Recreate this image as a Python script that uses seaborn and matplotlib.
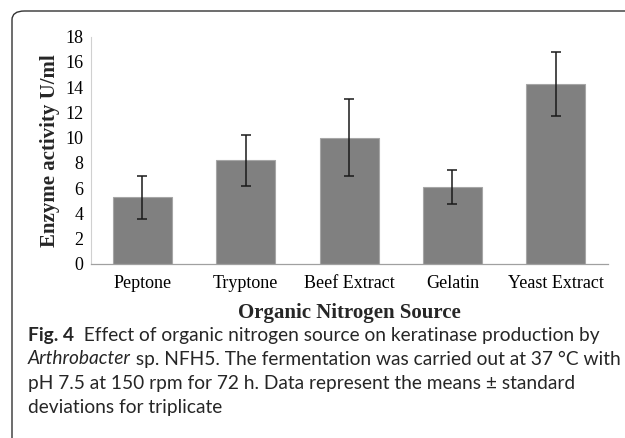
import numpy as np
import pandas as pd
import matplotlib
matplotlib.use("Agg")
import matplotlib.pyplot as plt
import seaborn as sns
from matplotlib.patches import FancyBboxPatch

# data
sources = ["Peptone", "Tryptone", "Beef Extract", "Gelatin", "Yeast Extract"]
activity = [5.3, 8.2, 10.0, 6.1, 14.25]
sd = [1.7, 2.0, 3.05, 1.35, 2.5]
yticks = [0, 2, 4, 6, 8, 10, 12, 14, 16, 18]

df = pd.DataFrame({"source": sources, "activity": activity, "sd": sd})

sns.set_style("white")
plt.rcParams["font.family"] = ["Liberation Serif", "DejaVu Serif"]

fig = plt.figure(figsize=(6.25, 4.38), dpi=100)
ax = fig.add_axes([0.1451, 0.3973, 0.8269, 0.5189])

sns.barplot(data=df, x="source", y="activity", color="#808080", saturation=1,
            width=0.57, edgecolor="#a6a6a6", linewidth=0.8, ax=ax)
ax.errorbar(np.arange(len(sources)), df["activity"], yerr=df["sd"], fmt="none",
            ecolor="#1a1a1a", elinewidth=1.1, capsize=3.5, capthick=1.1)

ax.set_xlim(-0.5, 4.5)
ax.set_ylim(0, 18)
ax.set_yticks(yticks)
ax.tick_params(axis="both", length=0, labelsize=13, colors="black")
ax.tick_params(axis="y", pad=5)
ax.tick_params(axis="x", pad=8)
ax.set_xlabel("Organic Nitrogen Source", fontsize=15, fontweight="bold", labelpad=8)
ax.set_ylabel("Enzyme activity U/ml", fontsize=15, fontweight="bold", labelpad=4)
for s in ["top", "right"]:
    ax.spines[s].set_visible(False)
ax.spines["left"].set_color("#d0d0d0")
ax.spines["bottom"].set_color("#a0a0a0")
ax.spines["left"].set_linewidth(0.8)
ax.spines["bottom"].set_linewidth(0.9)

# rounded frame around the figure panel
frame = FancyBboxPatch((12 / 625, -0.2), 1.2, 1.2 - 11 / 438,
                       boxstyle="round,pad=0,rounding_size=0.02",
                       transform=fig.transFigure, fill=False,
                       edgecolor="#333333", linewidth=1.0, clip_on=False)
fig.patches.append(frame)

# caption, written piece by piece so bold / italic parts line up
cap_font = ["Lato", "DejaVu Sans"]
cap_size = 13.8
caption = [
    [("Fig. 4", "bold", "normal"), ("  Effect of organic nitrogen source on keratinase production by", "normal", "normal")],
    [("Arthrobacter", "normal", "italic"), (" sp. NFH5. The fermentation was carried out at 37 °C with", "normal", "normal")],
    [("pH 7.5 at 150 rpm for 72 h. Data represent the means ± standard", "normal", "normal")],
    [("deviations for triplicate", "normal", "normal")],
]
y0 = 1 - 335 / 438
step = 24 / 438
renderer = fig.canvas.get_renderer()
for i, parts in enumerate(caption):
    x = 28 / 625
    for txt, weight, style in parts:
        t = fig.text(x, y0 - i * step, txt, fontsize=cap_size, fontweight=weight,
                     style=style, family=cap_font, va="center")
        bb = t.get_window_extent(renderer=renderer)
        x = (bb.x1) / fig.bbox.width

fig.savefig("out.png", dpi=100)
